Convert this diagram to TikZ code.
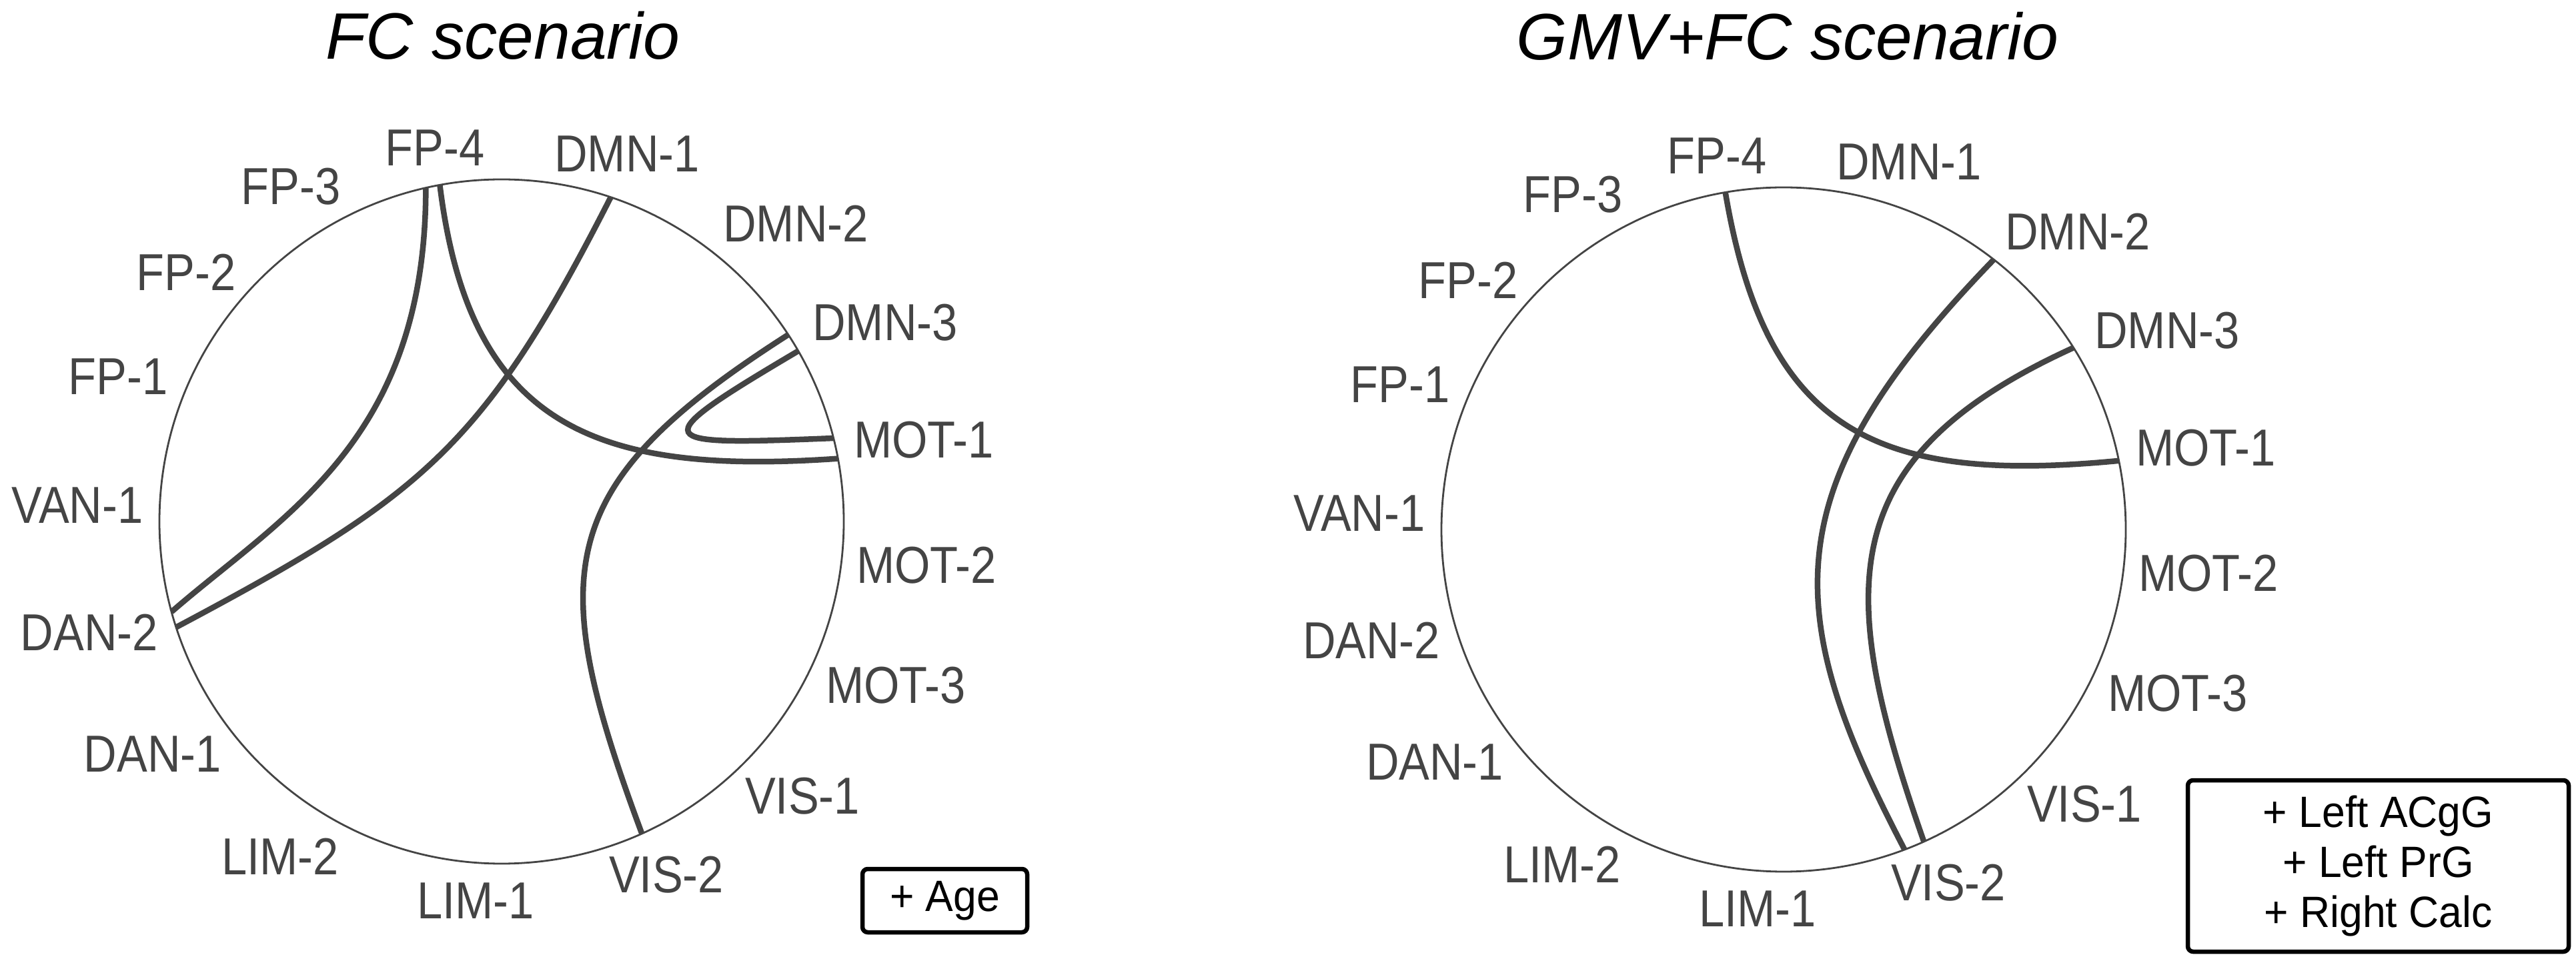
\documentclass[tikz,border=0pt]{standalone}
\usepackage{fontspec}
\setmainfont{Liberation Sans}
\newfontfamily\narrowfont{Liberation Sans}[FakeStretch=0.88]
\newfontfamily\boxfont{Liberation Sans}[FakeStretch=0.95]
\usetikzlibrary{calc}
\definecolor{ink}{HTML}{444444}

\begin{document}
\begin{tikzpicture}[
  ring/.style={draw=ink, line width=0.28mm},
  chord/.style={draw=ink, line width=0.85mm},
  lab/.style={text=ink, inner sep=0pt, font=\narrowfont\fontsize{22.2}{26}\selectfont},
  ttl/.style={inner sep=0pt, font=\itshape\fontsize{28}{32}\selectfont},
  keybox/.style={draw, line width=0.65mm, rounded corners=0.8mm, align=center,
                 inner sep=0pt, font=\boxfont\fontsize{18.7}{21.3}\selectfont}]
\useasboundingbox (0,0) rectangle (38.62,14.40);
% centres of the two rings
\coordinate (lc) at (7.52,6.58);
\coordinate (rc) at (26.74,6.46);
\node[ttl] (ltitle) at (7.54,13.865) {FC scenario};
\node[ttl] (rtitle) at (26.80,13.855) {GMV+FC scenario};
% rings and network labels
\foreach \p in {l,r} {
  \draw[ring] (\p c) circle (5.13);
  \foreach \id/\txt/\dx/\dy in {fp4/FP-4/-1.00/5.60, dmn1/DMN-1/1.88/5.51,
      dmn2/DMN-2/4.41/4.47, dmn3/DMN-3/5.75/2.98, mot1/MOT-1/6.33/1.22,
      mot2/MOT-2/6.37/-0.66, mot3/MOT-3/5.91/-2.46, vis1/VIS-1/4.51/-4.12,
      vis2/VIS-2/2.47/-5.30, lim1/LIM-1/-0.39/-5.69, lim2/LIM-2/-3.32/-5.02,
      dan1/DAN-1/-5.23/-3.49, dan2/DAN-2/-6.18/-1.66, van1/VAN-1/-6.36/0.24,
      fp1/FP-1/-5.75/2.17, fp2/FP-2/-4.73/3.74, fp3/FP-3/-3.16/5.02}
    \node[lab] (\p\id) at ($(\p c)+(\dx,\dy)$) {\txt};
}
% chord ends, FC scenario
\coordinate (lfp4a) at ($(lc)+(102.8:5.13)$);
\coordinate (lfp4b) at ($(lc)+(100.4:5.13)$);
\coordinate (ldmn1) at ($(lc)+(71.4:5.13)$);
\coordinate (ldmn3a) at ($(lc)+(33.1:5.13)$);
\coordinate (ldmn3b) at ($(lc)+(29.9:5.13)$);
\coordinate (lmot1a) at ($(lc)+(14.1:5.13)$);
\coordinate (lmot1b) at ($(lc)+(10.6:5.13)$);
\coordinate (lvis2) at ($(lc)+(-65.8:5.13)$);
\coordinate (ldan2a) at ($(lc)+(195.3:5.13)$);
\coordinate (ldan2b) at ($(lc)+(198.0:5.13)$);
\draw[chord] (lfp4a) .. controls +(270:3.8) and +(41:2.2) .. (ldan2a);
\draw[chord] (lfp4b) .. controls +(-83:3.65) and +(184:3.65) .. (lmot1b);
\draw[chord] (ldmn1) .. controls +(243:4.2) and +(28:4.2) .. (ldan2b);
\draw[chord] (ldmn3a) .. controls +(212.6:4.2) and +(110.4:4.2) .. (lvis2);
\draw[chord] (ldmn3b) .. controls +(210.6:2.74) and +(182.3:2.74) .. (lmot1a);
% chord ends, GMV+FC scenario
\coordinate (rfp4) at ($(rc)+(99.8:5.13)$);
\coordinate (rdmn2) at ($(rc)+(52.1:5.13)$);
\coordinate (rdmn3) at ($(rc)+(32.1:5.13)$);
\coordinate (rmot1) at ($(rc)+(11.6:5.13)$);
\coordinate (rvis2a) at ($(rc)+(-69.3:5.13)$);
\coordinate (rvis2b) at ($(rc)+(-65.8:5.13)$);
\draw[chord] (rfp4) .. controls +(-80.4:3.65) and +(185.5:3.65) .. (rmot1);
\draw[chord] (rdmn2) .. controls +(225.9:4.8) and +(117.6:4.0) .. (rvis2a);
\draw[chord] (rdmn3) .. controls +(204.5:4.0) and +(109.3:4.0) .. (rvis2b);
% covariates
\node[keybox, minimum width=2.47cm, minimum height=0.95cm] (agebox) at (14.165,0.895) {+ Age};
\node[keybox, minimum width=5.71cm, minimum height=2.57cm] (gmvbox) at (35.655,1.415)
  {+ Left ACgG\\ + Left PrG\\ + Right Calc};
\end{tikzpicture}
\end{document}
